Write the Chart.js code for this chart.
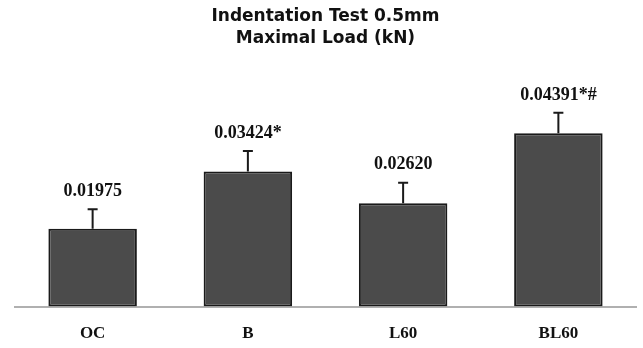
<!DOCTYPE html>
<html>
<head>
<meta charset="utf-8">
<script src="https://cdn.jsdelivr.net/npm/chart.js@4"></script>
<style>
  html, body { margin: 0; padding: 0; background: #fff; }
  canvas { display: block; }
</style>
</head>
<body>
<canvas id="chart" width="643" height="348"></canvas>
<script>
// data
const groups = ['OC', 'B', 'L60', 'BL60']
const meanLoad = [0.01975, 0.03424, 0.02620, 0.04391]
const errLoad = [0.0049, 0.0052, 0.0052, 0.0052]
const valueLabels = ['0.01975', '0.03424*', '0.02620', '0.04391*#']
const titleLines = ['Indentation Test 0.5mm', 'Maximal Load (kN)']

const serifBold = { family: '"Liberation Serif", "Times New Roman", serif', size: 17, weight: 'bold' }

// error bars (upper whisker only) + value labels
const errorBars = {
    id: 'errorBars',
    afterDatasetsDraw(chart) {
        let ctx = chart.ctx
        let y = chart.scales.y
        let meta = chart.getDatasetMeta(0)
        ctx.save()
        meta.data.forEach((bar, i) => {
            let top = y.getPixelForValue(meanLoad[i] + errLoad[i])
            ctx.strokeStyle = '#1a1a1a'
            ctx.lineWidth = 2
            ctx.beginPath()
            ctx.moveTo(bar.x, bar.y)
            ctx.lineTo(bar.x, top)
            ctx.moveTo(bar.x - 5, top)
            ctx.lineTo(bar.x + 5, top)
            ctx.stroke()

            ctx.fillStyle = '#111'
            ctx.font = 'bold 18px "Liberation Serif", serif'
            ctx.textAlign = 'center'
            ctx.textBaseline = 'middle'
            ctx.fillText(valueLabels[i], bar.x, top - 18)
        })
        ctx.restore()
    }
}

new Chart(document.getElementById('chart'), {
    type: 'bar',
    data: {
        labels: groups,
        datasets: [{
            data: meanLoad,
            backgroundColor: '#4b4b4b',
            borderColor: '#1a1a1a',
            borderWidth: 2,
            borderSkipped: false,
            barPercentage: 0.57,
            categoryPercentage: 1
        }]
    },
    options: {
        responsive: false,
        animation: false,
        layout: { padding: { left: 15, right: 7, top: 0, bottom: -13 } },
        plugins: {
            legend: { display: false },
            tooltip: { enabled: false },
            title: {
                display: true,
                text: titleLines,
                color: '#111',
                font: { family: '"DejaVu Sans", sans-serif', size: 17, weight: 'bold', lineHeight: 1.32 },
                padding: { top: 5, bottom: 20 }
            }
        },
        scales: {
            x: {
                grid: { display: false, drawTicks: false },
                border: { display: true, color: '#b0b0b0', width: 2 },
                ticks: { color: '#111', font: serifBold, padding: 17 }
            },
            y: {
                display: false,
                min: 0,
                max: 0.06
            }
        }
    },
    plugins: [errorBars]
})
</script>
</body>
</html>
